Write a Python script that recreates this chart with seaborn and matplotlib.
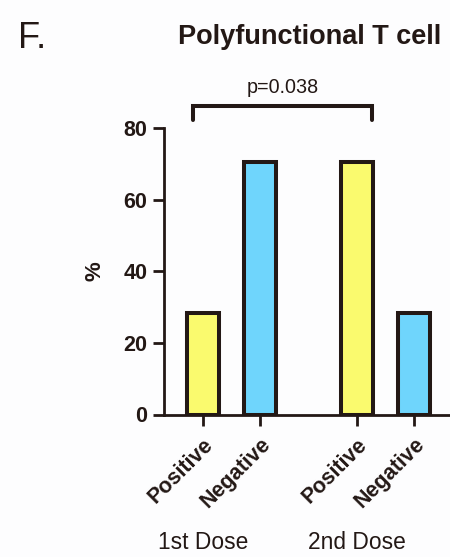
import matplotlib
matplotlib.use("Agg")
import matplotlib.pyplot as plt
import seaborn as sns
import pandas as pd

# ---- data ----
groups = ["1st Dose", "1st Dose", "2nd Dose", "2nd Dose"]
status = ["Positive", "Negative", "Positive", "Negative"]
percent = [28.4, 70.5, 70.5, 28.4]
yticks = [0, 20, 40, 60, 80]
title = "Polyfunctional T cell"
panel = "F."
pval_text = "p=0.038"

# ---- layout ----
pos = [0.0, 1.0, 2.7, 3.7]
df = pd.DataFrame({"pos": pos, "percent": percent, "status": status, "group": groups})

ink = "#231815"
palette = {"Positive": "#FAFA6E", "Negative": "#6FD5FC"}

sns.set_style("ticks")
plt.rcParams["font.family"] = ["Liberation Sans", "DejaVu Sans"]

fig = plt.figure(figsize=(4.5, 5.57), dpi=100)
fig.patch.set_facecolor("#FDFDFE")
ax = fig.add_axes([164 / 450, 1 - 414.5 / 557, 1 - 164 / 450, 286.5 / 557])
ax.set_facecolor("#FDFDFE")

sns.barplot(data=df, x="pos", y="percent", hue="status", palette=palette,
            native_scale=True, dodge=False, width=0.57, edgecolor=ink,
            linewidth=2.9, saturation=1, legend=False, ax=ax, errorbar=None)

ax.set_xlim(-0.684, 4.33)
ax.set_ylim(0, 80)
ax.set_yticks(yticks)
ax.set_yticklabels([str(t) for t in yticks], fontsize=15.5, fontweight="bold", color=ink)
ax.set_xticks(pos)
ax.set_xticklabels(status, rotation=45, ha="right", rotation_mode="anchor",
                   fontsize=15.5, fontweight="bold", color=ink)
ax.set_xlabel("")
ax.set_ylabel("%", fontsize=16, fontweight="bold", color=ink, labelpad=13)

for s in ["top", "right"]:
    ax.spines[s].set_visible(False)
for s in ["left", "bottom"]:
    ax.spines[s].set_linewidth(2.0)
    ax.spines[s].set_color(ink)
ax.tick_params(axis="both", length=8, width=2.0, color=ink)
ax.tick_params(axis="y", pad=4)
ax.tick_params(axis="x", pad=6)

# group labels
for gname in ["1st Dose", "2nd Dose"]:
    xs = [p for p, g in zip(pos, groups) if g == gname]
    ax.text(xs[0], -0.448, gname, transform=ax.get_xaxis_transform(),
            ha="center", va="center", fontsize=16.4, color=ink)

# significance bracket
x1, x2 = pos[0] - 0.18, pos[2] + 0.26
yb, yt = 82.2, 86.2
ax.plot([x1, x1, x2, x2], [yb, yt, yt, yb], color=ink, lw=2.9,
        clip_on=False, solid_joinstyle="miter")
ax.text((x1 + x2) / 2, yt + 2.5, pval_text, ha="center", va="bottom",
        fontsize=14.2, color=ink)

fig.text(310 / 450, 1 - 37 / 557, title, ha="center", va="center",
         fontsize=19.5, fontweight="bold", color=ink)
fig.text(18 / 450, 1 - 38 / 557, panel, ha="left", va="center",
         fontsize=26, color=ink)

fig.savefig("out.png", dpi=100, facecolor=fig.get_facecolor())
